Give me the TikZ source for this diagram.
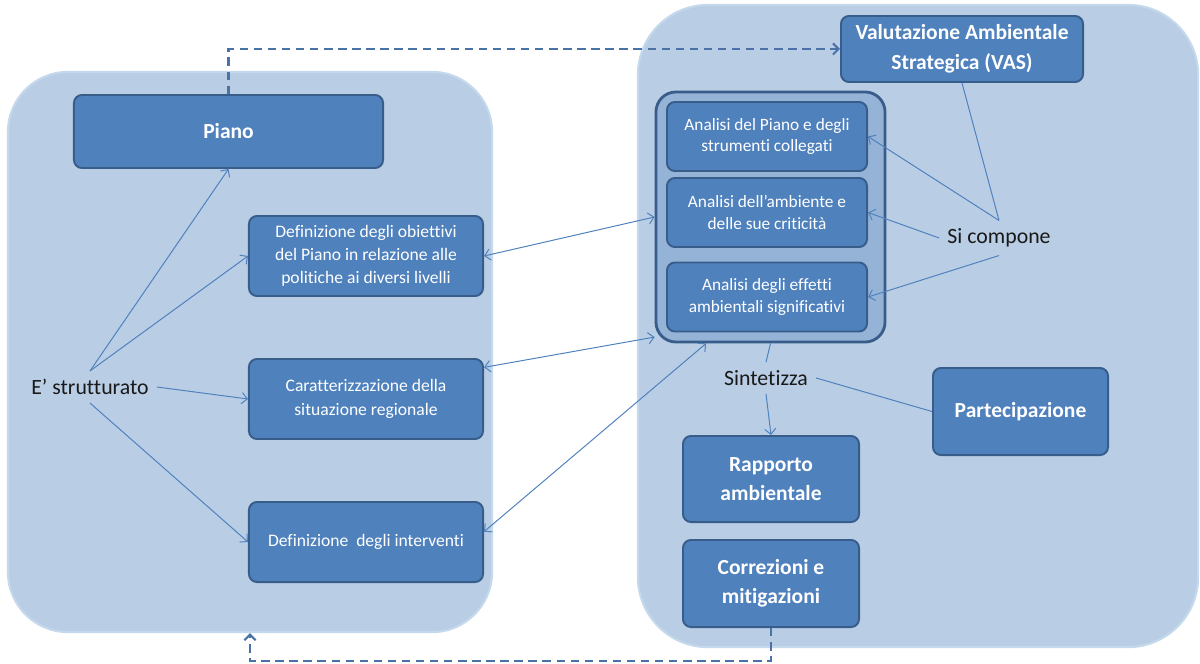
\documentclass[tikz,border=0pt]{standalone}
\usepackage{fontspec}
\setmainfont{Carlito}[Ligatures=NoCommon]
\usetikzlibrary{arrows.meta}
\definecolor{panelfill}{HTML}{B9CDE5}
\definecolor{paneledge}{HTML}{C4D9EC}
\definecolor{boxfill}{HTML}{4F81BD}
\definecolor{boxedge}{HTML}{385D8A}
\definecolor{groupfill}{HTML}{95B3D7}
\definecolor{linkcol}{HTML}{4F81BD}
\definecolor{dashcol}{HTML}{4A72A6}
\begin{document}
\begin{tikzpicture}[x=0.025cm,y=-0.025cm,
  panel/.style={draw=paneledge,line width=1.5pt,fill=panelfill,inner sep=0pt},
  box/.style={draw=boxedge,line width=1.4pt,fill=boxfill,rounded corners=0.2cm,text=white,align=center,inner sep=2pt},
  boxb/.style={box,font=\fontsize{15.3}{21}\selectfont\bfseries},
  boxs/.style={box,font=\fontsize{12.5}{16.5}\selectfont},
  anabox/.style={box,font=\fontsize{12.3}{15.5}\selectfont,minimum width=5cm,minimum height=1.725cm},
  txt/.style={font=\fontsize{15.5}{18}\selectfont,text=black!90,inner sep=0.2cm},
  link/.style={draw=linkcol,line width=0.7pt},
  dashlink/.style={draw=dashcol,line width=1.5pt,dash pattern=on 6pt off 4pt},
  >={Straight Barb[length=4pt,width=8pt]}]
\useasboundingbox (0,0) rectangle (1200,663);
% the two panels
\node[panel,rounded corners=1.5cm,minimum width=12.1cm,minimum height=14cm] (lpanel) at (250,352) {};
\node[panel,rounded corners=1.75cm,minimum width=14cm,minimum height=16.05cm] (rpanel) at (918,326) {};

\node[boxb,minimum width=7.725cm,minimum height=1.825cm] (piano) at (228.5,131.5) {Piano};
\node[boxs,minimum width=5.85cm,minimum height=2cm] (obi) at (366,256) {Definizione degli obiettivi\\del Piano in relazione alle\\politiche ai diversi livelli};
\node[boxs,minimum width=5.85cm,minimum height=2cm] (car) at (366,399) {Caratterizzazione della\\situazione regionale};
\node[boxs,minimum width=5.85cm,minimum height=2cm] (int) at (366,542) {Definizione\ \ degli interventi};
\node[txt] (str) at (90,387) {E’ strutturato};
\draw[link,->] (str.north) -- (piano.south);
\draw[link,->] (str.north) -- (obi.west);
\draw[link,->] (str.east) -- (car.west);
\draw[link,->] (str.south) -- (int.west);

\node[boxb,minimum width=6.05cm,minimum height=1.65cm] (vas) at (962,49) {Valutazione Ambientale\\Strategica (VAS)};
\node[box,draw=boxedge,line width=2pt,fill=groupfill,rounded corners=0.5cm,minimum width=5.725cm,minimum height=6.25cm] (group) at (770.5,217) {};
\node[anabox] (ana1) at (767,136.5) {Analisi del Piano e degli\\strumenti\ collegati};
\node[anabox] (ana2) at (767,212.5) {Analisi dell’ambiente e\\delle sue criticità};
\node[anabox] (ana3) at (767,297) {Analisi degli effetti\\ambientali significativi};
\node[txt] (sc) at (999,238) {Si compone};
\draw[link] (vas.south) -- (sc.north);
\draw[link,->] (sc.north) -- (ana1.east);
\draw[link,->] (sc.west) -- (ana2.east);
\draw[link,->] (sc.south) -- (ana3.east);

\draw[link,<->] (obi.east) -- (group.west);
\draw[link,<->] (car.15) -- (group.226);
\draw[link,<->] (int.5) -- (group.243);

\node[txt] (sint) at (766,378) {Sintetizza};
\node[boxb,minimum width=4.375cm,minimum height=2.175cm] (par) at (1020.5,411.5) {Partecipazione};
\node[boxb,minimum width=4.4cm,minimum height=2.15cm] (rap) at (771,479) {Rapporto\\ambientale};
\node[boxb,minimum width=4.4cm,minimum height=2.175cm] (cor) at (771,583.5) {Correzioni e\\mitigazioni};
\draw[link] (group.south) -- (sint.north);
\draw[link,->] (sint.south) -- (rap.north);
\draw[link] (sint.east) -- (par.west);

% dashed loop
\draw[dashlink,->] (piano.north) |- (vas.west);
\draw[dashlink,->] (cor.south) -- ++(0,33) -| (lpanel.south);
\end{tikzpicture}
\end{document}
